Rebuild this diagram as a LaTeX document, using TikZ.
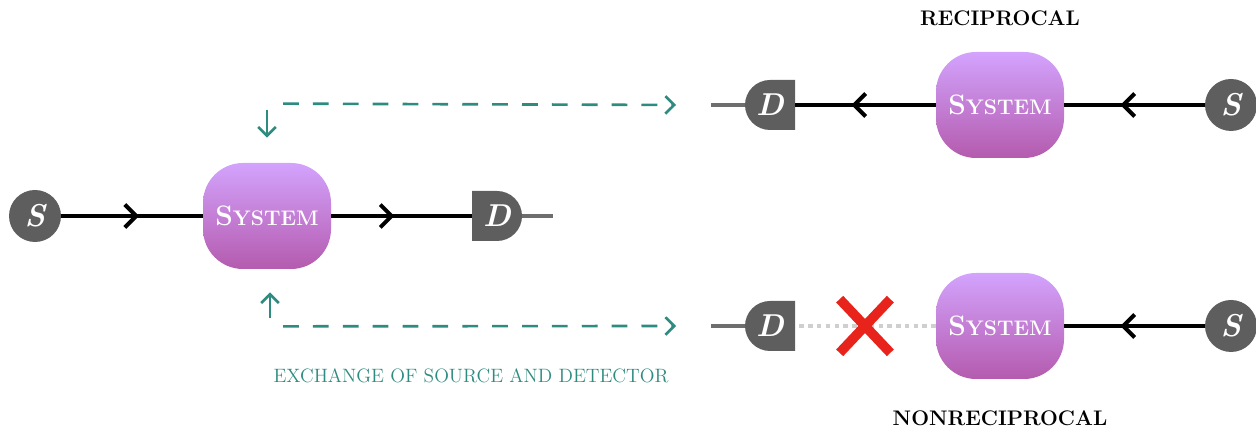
\documentclass[tikz,border=0pt]{standalone}
\usepackage{tikz}
\usetikzlibrary{positioning,arrows.meta,decorations.markings,shapes.misc}

\definecolor{dgray}{HTML}{5E5E5E}
\definecolor{stubgray}{HTML}{6E6E6E}
\definecolor{swapteal}{HTML}{2E8B7F}
\definecolor{systop}{HTML}{D3A3FD}
\definecolor{sysbot}{HTML}{B45BAE}
\definecolor{crossred}{HTML}{E8231B}
\definecolor{lightdot}{HTML}{CFCFCF}

\newcommand{\sysname}{{\fontsize{16}{16}\selectfont S}{\fontsize{12}{12}\selectfont YSTEM}}

\begin{document}
\begin{tikzpicture}[
        src/.style={circle,fill=dgray,minimum size=1.04cm,inner sep=0pt,text=white,font=\fontsize{18}{18}\selectfont\bfseries\itshape},
        sys/.style={rectangle,rounded corners=0.8cm,top color=systop,bottom color=sysbot,minimum width=2.56cm,minimum height=2.12cm,text=white,font=\bfseries},
        detR/.style={rectangle,minimum size=1cm,inner sep=0pt,text=white,font=\fontsize{18}{18}\selectfont\bfseries\itshape,
            path picture={\fill[dgray] (path picture bounding box.south west) -- ++(0.5,0) arc[start angle=-90,end angle=90,radius=0.5] -- ++(-0.5,0) -- cycle;}},
        detL/.style={rectangle,minimum size=1cm,inner sep=0pt,text=white,font=\fontsize{18}{18}\selectfont\bfseries\itshape,
            path picture={\fill[dgray] (path picture bounding box.south east) -- ++(-0.5,0) arc[start angle=-90,end angle=-270,radius=0.5] -- ++(0.5,0) -- cycle;}},
        beam/.style={line width=2.3pt,black},
        midarrow/.style={postaction={decorate},decoration={markings,mark=at position #1 with {\arrow{Straight Barb[length=6.5pt,width=13pt]}}}},
        midarrow/.default=0.5,
        stub/.style={line width=1.8pt,stubgray},
        dotline/.style={line width=2.2pt,lightdot,dash pattern=on 2.5pt off 2.5pt},
        swap/.style={line width=1.5pt,swapteal,dash pattern=on 9pt off 8pt,-{Straight Barb[length=5pt,width=10pt]}},
        hop/.style={line width=1.5pt,swapteal,-{Straight Barb[length=5pt,width=10pt]}},
        tag/.style={font=\fontsize{12}{12}\selectfont\bfseries}]
    \useasboundingbox (0,0) rectangle (25.12,8.58);
    % source and detector, as first set up
    \node[src] (s1) at (0.70,4.26) {S};
    \node[sys] (sys1) at (5.34,4.26) {\sysname};
    \node[detR] (d1) at (9.94,4.26) {D};
    \coordinate (e1) at (11.06,4.26);
    \draw[beam,midarrow=0.55] (s1) -- (sys1);
    \draw[beam,midarrow=0.45] (sys1) -- (d1);
    \draw[stub] (d1.east) -- (e1);
    % reciprocal case
    \node[tag] (rec) at (20.0,8.22) {RECIPROCAL};
    \node[src] (s2) at (24.62,6.48) {S};
    \node[sys] (sys2) at (20.0,6.48) {\sysname};
    \node[detL] (d2) at (15.40,6.48) {D};
    \coordinate (e2) at (14.22,6.48);
    \draw[beam,midarrow=0.6] (s2) -- (sys2);
    \draw[beam,midarrow=0.6] (sys2) -- (d2);
    \draw[stub] (d2.west) -- (e2);
    % nonreciprocal case
    \node[tag] (nrec) at (20.0,0.22) {NONRECIPROCAL};
    \node[src] (s3) at (24.62,2.06) {S};
    \node[sys] (sys3) at (20.0,2.06) {\sysname};
    \node[detL] (d3) at (15.40,2.06) {D};
    \coordinate (e3) at (14.22,2.06);
    \draw[beam,midarrow=0.6] (s3) -- (sys3);
    \draw[dotline] (sys3) -- (d3);
    \draw[stub] (d3.west) -- (e3);
    \node[cross out,draw=crossred,line width=5.5pt,minimum width=0.82cm,minimum height=0.88cm] (x) at (17.30,2.06) {};
    % exchange of source and detector
    \draw[hop] ([yshift=1.06cm]sys1.north) -- ([yshift=0.5cm]sys1.north);
    \draw[swap] ([xshift=0.32cm,yshift=1.18cm]sys1.north) -- ([xshift=-0.7cm]e2);
    \draw[hop] ([xshift=0.06cm,yshift=-0.98cm]sys1.south) -- ([xshift=0.06cm,yshift=-0.46cm]sys1.south);
    \draw[swap] ([xshift=0.32cm,yshift=-1.14cm]sys1.south) -- ([xshift=-0.7cm]e3);
    \node[font=\fontsize{11}{11}\selectfont,text=swapteal] (swaptxt) at (9.42,1.06) {EXCHANGE OF SOURCE AND DETECTOR};
\end{tikzpicture}
\end{document}
